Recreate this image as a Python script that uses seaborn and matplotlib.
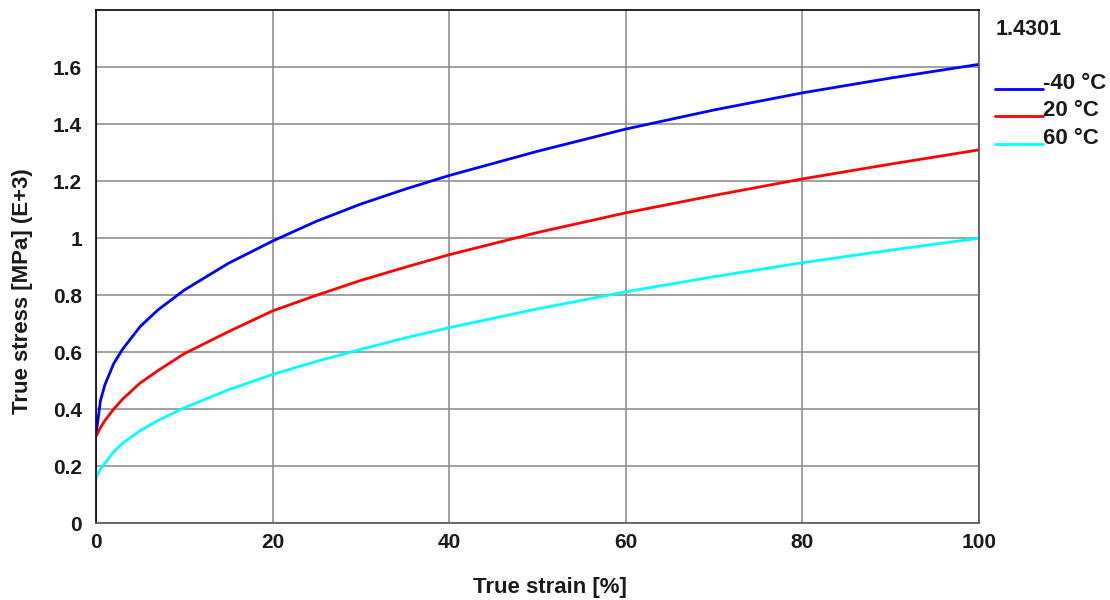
import matplotlib
matplotlib.use('Agg')
import matplotlib.pyplot as plt
from matplotlib.lines import Line2D
import seaborn as sns
import pandas as pd

# true strain [%] sample points
strain = [0, 0.5, 1, 2, 3, 5, 7, 10, 15, 20, 25, 30, 35, 40, 50, 60, 70, 80, 90, 100]

# true stress [MPa] (E+3)
stress_m40 = [0.31, 0.43, 0.485, 0.56, 0.61, 0.69, 0.748, 0.818, 0.912, 0.99, 1.06, 1.12, 1.172, 1.22, 1.305, 1.383, 1.45, 1.51, 1.562, 1.61]
stress_20 = [0.305, 0.335, 0.36, 0.40, 0.435, 0.492, 0.535, 0.595, 0.672, 0.745, 0.80, 0.852, 0.898, 0.942, 1.02, 1.089, 1.15, 1.208, 1.26, 1.31]
stress_60 = [0.16, 0.19, 0.21, 0.25, 0.28, 0.325, 0.36, 0.405, 0.468, 0.522, 0.568, 0.61, 0.65, 0.686, 0.752, 0.812, 0.865, 0.914, 0.958, 1.0]

labels = ['-40 °C', '20 °C', '60 °C']
colors = ['#0000ff', '#ff0000', '#00ffff']

df = pd.concat([
    pd.DataFrame({'strain': strain, 'stress': s, 'temp': lab})
    for s, lab in zip([stress_m40, stress_20, stress_60], labels)
])

sns.set_style('white')
plt.rcParams['font.family'] = ['Liberation Sans', 'DejaVu Sans']
plt.rcParams['font.weight'] = 'bold'
plt.rcParams['text.color'] = '#1a1a1a'

fig = plt.figure(figsize=(11.1, 6), dpi=100)
ax = fig.add_axes([0.0865, 0.128, 0.7955, 0.855])

sns.lineplot(data=df, x='strain', y='stress', hue='temp', palette=colors,
             linewidth=2, ax=ax, legend=False)

ax.set_xlim(0, 100)
ax.set_ylim(0, 1.8)
ax.set_xticks([0, 20, 40, 60, 80, 100])
ax.set_yticks([0, 0.2, 0.4, 0.6, 0.8, 1.0, 1.2, 1.4, 1.6])
ax.set_yticklabels(['0', '0.2', '0.4', '0.6', '0.8', '1', '1.2', '1.4', '1.6'])
ax.grid(True, color='#888888', linewidth=1.1)
ax.tick_params(direction='inout', length=12, width=1.1, labelsize=15,
               colors='black', labelcolor='#1a1a1a')
ax.tick_params(axis='x', pad=1)
ax.tick_params(axis='y', pad=4)
for t in ax.get_xticklabels() + ax.get_yticklabels():
    t.set_fontweight('bold')
for side in ['left', 'top']:
    ax.spines[side].set_color('black')
for side in ['right', 'bottom']:
    ax.spines[side].set_color('#555555')
for sp in ax.spines.values():
    sp.set_linewidth(1.2)

ax.set_xlabel('True strain [%]', fontsize=16, fontweight='bold', color='#1a1a1a')
ax.set_ylabel('True stress [MPa] (E+3)', fontsize=16, fontweight='bold', color='#1a1a1a')
ax.xaxis.set_label_coords(0.514, -0.105)
ax.yaxis.set_label_coords(-0.071, 0.452)

# legend to the right of the plot, lines sit on the text baseline
fig.text(0.897, 1 - 35 / 600, '1.4301', fontsize=15.5, fontweight='bold', va='baseline')
for i, (lab, c) in enumerate(zip(labels, colors)):
    y = 1 - (89 + 27.5 * i) / 600
    fig.add_artist(Line2D([995 / 1110, 1043 / 1110], [y, y], color=c, linewidth=2,
                          transform=fig.transFigure))
    fig.text(1043 / 1110, y, lab, fontsize=16, fontweight='bold', va='baseline')

plt.savefig('out.png', dpi=100)
